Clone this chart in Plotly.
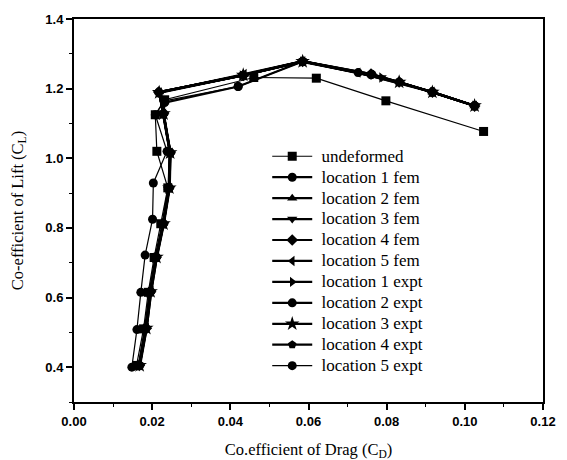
import plotly.graph_objects as go

# ---------------- data ----------------
names = ["undeformed", "location 1 fem", "location 2 fem", "location 3 fem",
         "location 4 fem", "location 5 fem", "location 1 expt", "location 2 expt",
         "location 3 expt", "location 4 expt", "location 5 expt"]
symbols = ["square", "circle", "triangle-up", "triangle-down", "diamond",
           "triangle-left", "triangle-right", "circle", "star", "pentagon", "circle"]

undeformed_cd = [0.0160, 0.0178, 0.0190, 0.0205, 0.0222, 0.0240, 0.0212, 0.0208, 0.0232, 0.0460, 0.0620, 0.0798, 0.1048]
undeformed_cl = [0.405, 0.510, 0.615, 0.715, 0.812, 0.915, 1.020, 1.125, 1.168, 1.232, 1.230, 1.165, 1.077]

loc1_fem_cd = [0.0168, 0.0184, 0.0196, 0.0211, 0.0229, 0.0244, 0.0246, 0.0229, 0.0232, 0.0420, 0.0585, 0.0727, 0.0832, 0.0917, 0.1025]
loc1_fem_cl = [0.405, 0.512, 0.617, 0.716, 0.812, 0.915, 1.016, 1.128, 1.160, 1.206, 1.278, 1.246, 1.219, 1.190, 1.151]

loc2_fem_cd = [0.0166, 0.0182, 0.0194, 0.0209, 0.0227, 0.0242, 0.0245, 0.0228, 0.0218, 0.0434, 0.0585, 0.0762, 0.0917, 0.1025]
loc2_fem_cl = [0.406, 0.513, 0.618, 0.717, 0.813, 0.916, 1.017, 1.128, 1.190, 1.240, 1.279, 1.242, 1.190, 1.150]

loc3_fem_cd = [0.0169, 0.0186, 0.0197, 0.0212, 0.0230, 0.0245, 0.0247, 0.0230, 0.0218, 0.0432, 0.0584, 0.0787, 0.0917, 0.1025]
loc3_fem_cl = [0.404, 0.511, 0.616, 0.715, 0.811, 0.914, 1.015, 1.127, 1.188, 1.238, 1.277, 1.232, 1.190, 1.151]

loc4_fem_cd = [0.0167, 0.0185, 0.0196, 0.0210, 0.0228, 0.0243, 0.0246, 0.0229, 0.0217, 0.0433, 0.0585, 0.0760, 0.0832, 0.0917, 0.1025]
loc4_fem_cl = [0.405, 0.512, 0.617, 0.716, 0.812, 0.915, 1.016, 1.128, 1.190, 1.238, 1.278, 1.242, 1.219, 1.190, 1.150]

loc5_fem_cd = [0.0168, 0.0186, 0.0198, 0.0212, 0.0229, 0.0244, 0.0247, 0.0230, 0.0219, 0.0436, 0.0586, 0.0727, 0.0917, 0.1025]
loc5_fem_cl = [0.406, 0.513, 0.618, 0.716, 0.812, 0.915, 1.016, 1.128, 1.189, 1.242, 1.279, 1.246, 1.191, 1.151]

loc1_expt_cd = [0.0167, 0.0184, 0.0195, 0.0210, 0.0228, 0.0243, 0.0245, 0.0229, 0.0218, 0.0430, 0.0585, 0.0787, 0.0917, 0.1025]
loc1_expt_cl = [0.405, 0.512, 0.617, 0.716, 0.812, 0.915, 1.016, 1.128, 1.189, 1.238, 1.278, 1.232, 1.190, 1.151]

loc2_expt_cd = [0.0166, 0.0183, 0.0195, 0.0210, 0.0228, 0.0243, 0.0246, 0.0229, 0.0217, 0.0432, 0.0585, 0.0762, 0.0917, 0.1025]
loc2_expt_cl = [0.405, 0.512, 0.617, 0.716, 0.812, 0.915, 1.016, 1.128, 1.190, 1.238, 1.278, 1.241, 1.190, 1.151]

loc3_expt_cd = [0.0168, 0.0185, 0.0196, 0.0211, 0.0229, 0.0244, 0.0246, 0.0229, 0.0218, 0.0433, 0.0585, 0.0832, 0.0917, 0.1025]
loc3_expt_cl = [0.405, 0.512, 0.617, 0.716, 0.812, 0.915, 1.016, 1.128, 1.189, 1.239, 1.278, 1.219, 1.190, 1.151]

loc4_expt_cd = [0.0167, 0.0184, 0.0196, 0.0210, 0.0228, 0.0243, 0.0246, 0.0229, 0.0217, 0.0432, 0.0585, 0.0727, 0.0917, 0.1025]
loc4_expt_cl = [0.405, 0.512, 0.617, 0.716, 0.812, 0.915, 1.016, 1.128, 1.190, 1.238, 1.278, 1.246, 1.190, 1.151]

loc5_expt_cd = [0.0148, 0.0161, 0.0171, 0.0182, 0.0201, 0.0203, 0.0238, 0.0208, 0.0232, 0.0420, 0.0585, 0.0760, 0.0917]
loc5_expt_cl = [0.400, 0.508, 0.615, 0.722, 0.825, 0.929, 1.020, 1.125, 1.165, 1.206, 1.278, 1.240, 1.190]

series_cd = [undeformed_cd, loc1_fem_cd, loc2_fem_cd, loc3_fem_cd, loc4_fem_cd, loc5_fem_cd,
             loc1_expt_cd, loc2_expt_cd, loc3_expt_cd, loc4_expt_cd, loc5_expt_cd]
series_cl = [undeformed_cl, loc1_fem_cl, loc2_fem_cl, loc3_fem_cl, loc4_fem_cl, loc5_fem_cl,
             loc1_expt_cl, loc2_expt_cl, loc3_expt_cl, loc4_expt_cl, loc5_expt_cl]
line_widths = [1.2, 2.2, 2.2, 2.2, 2.2, 2.2, 2.2, 2.2, 2.2, 2.2, 1.2]

x_ticks = [0.00, 0.02, 0.04, 0.06, 0.08, 0.10, 0.12]
y_ticks = [0.4, 0.6, 0.8, 1.0, 1.2, 1.4]

SERIF = "Liberation Serif, Times New Roman, serif"
SANS = "Liberation Sans, Arial, sans-serif"

# ---------------- figure ----------------
fig = go.Figure()
for name, sym, xs, ys, lw in zip(names, symbols, series_cd, series_cl, line_widths):
    fig.add_trace(go.Scatter(
        x=xs, y=ys,
        name=f'<span style="font-size:17px">&nbsp;{name}</span>',
        mode="lines+markers",
        line=dict(color="black", width=lw),
        marker=dict(symbol=sym, size=9 if sym != "star" else 11, color="black",
                    line=dict(color="black", width=0)),
    ))

axis_common = dict(
    showline=True, linecolor="black", linewidth=2, mirror=True,
    ticks="outside", ticklen=6, tickwidth=1.5, tickcolor="black",
    showgrid=False, zeroline=False,
    tickfont=dict(family=SANS, size=13, color="black", weight="bold"),
    title_font=dict(family=SERIF, size=16.5, color="black"),
)

fig.update_xaxes(
    range=[0, 0.12], tickvals=x_ticks, ticktext=[f"{v:.2f}" for v in x_ticks],
    minor=dict(dtick=0.01, ticks="outside", ticklen=3, tickcolor="black", tickwidth=1),
    title_text="Co.efficient of Drag (C<sub>D</sub>)", title_standoff=16,
    **axis_common,
)
fig.update_yaxes(
    range=[0.3, 1.4], tickvals=y_ticks, ticktext=[f"{v:.1f}" for v in y_ticks],
    minor=dict(tick0=0.3, dtick=0.1, ticks="outside", ticklen=3, tickcolor="black", tickwidth=1),
    title_text="Co-efficient of Lift (C<sub>L</sub>)", title_standoff=19,
    **axis_common,
)

# the page body has an 8px default margin, so the figure is 8px smaller
fig.update_layout(
    width=559, height=452,
    margin=dict(l=66, r=24, t=11, b=58, autoexpand=False),
    paper_bgcolor="white", plot_bgcolor="white",
    showlegend=True,
    legend=dict(
        x=0.412, y=0.682, xanchor="left", yanchor="top",
        bgcolor="rgba(0,0,0,0)", borderwidth=0,
        font=dict(family=SERIF, size=13.8, color="black"),
        tracegroupgap=0, itemwidth=40,
    ),
)

fig.write_html("out.html")
